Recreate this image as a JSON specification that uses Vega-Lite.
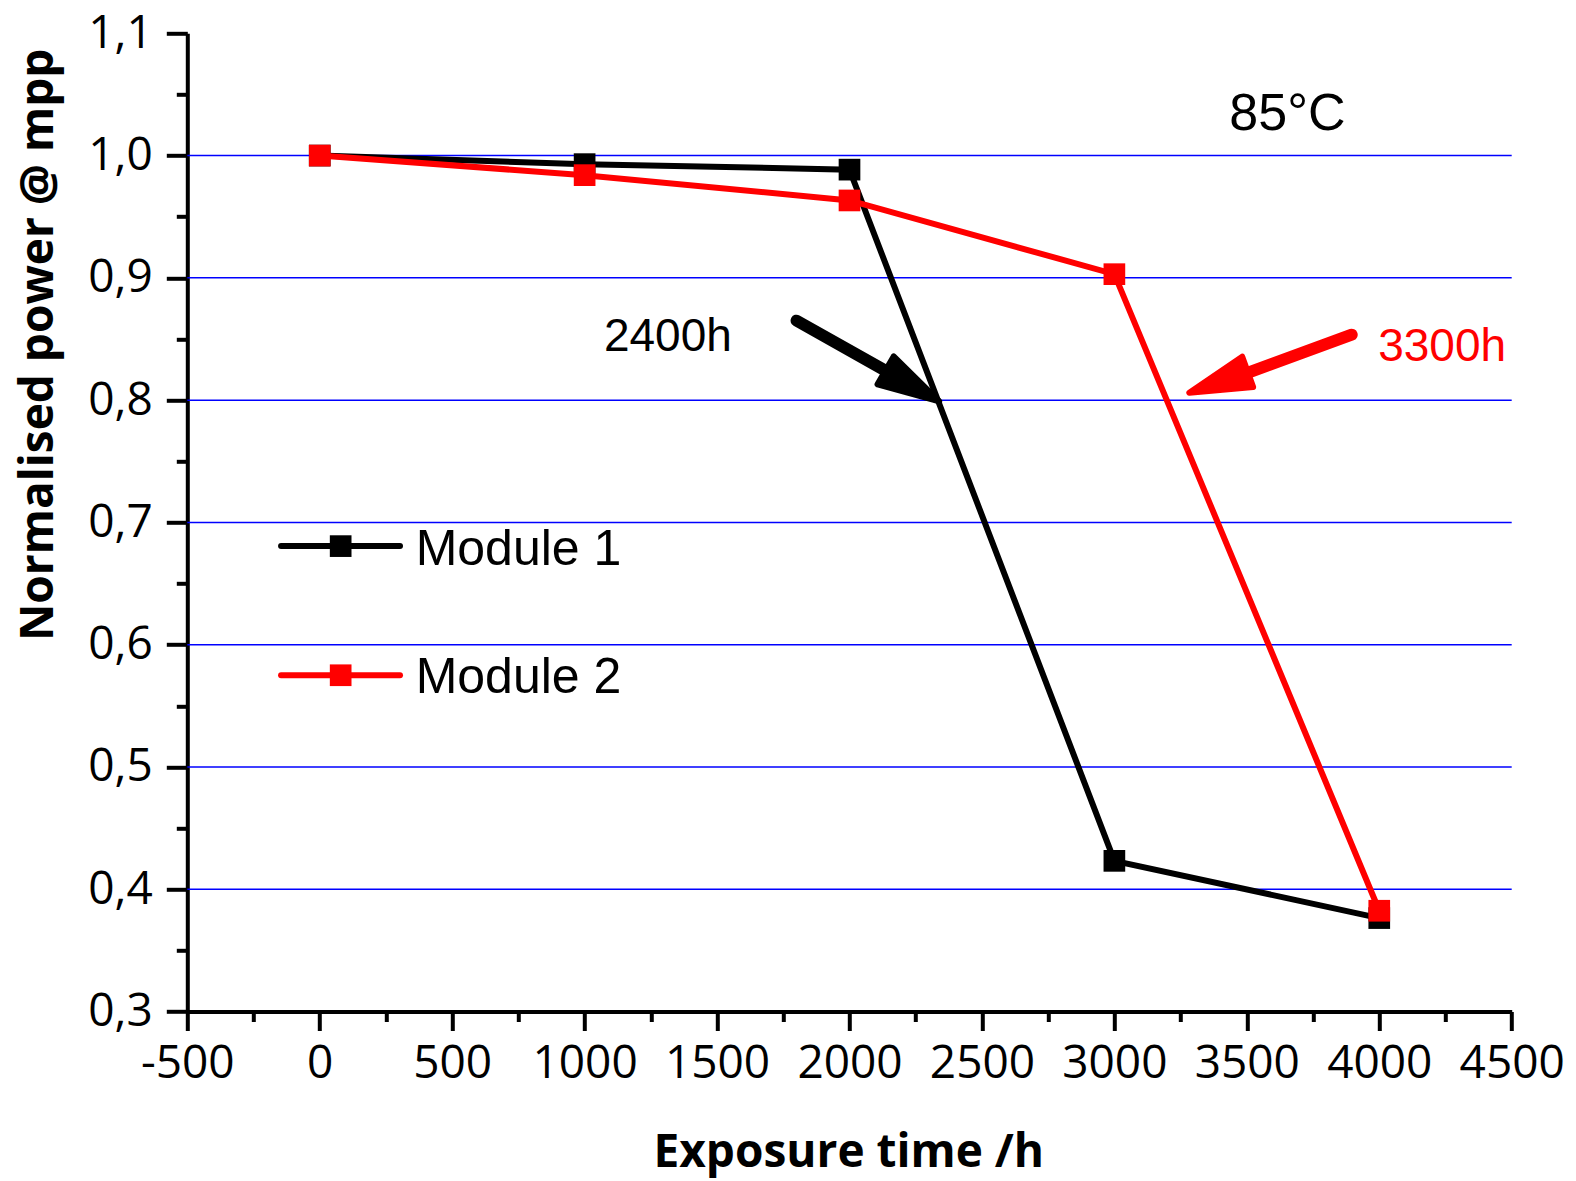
{
  "$schema": "https://vega.github.io/schema/vega-lite/v6.json",
  "autosize": "none",
  "width": 1324.4,
  "height": 978.2,
  "padding": {"left": 187.3, "top": 33.3, "right": 64.3, "bottom": 169.5},
  "background": "white",
  "config": {
    "view": {"stroke": null},
    "axis": {
      "grid": false,
      "domainColor": "black",
      "domainWidth": 4,
      "tickColor": "black",
      "tickWidth": 4,
      "labelColor": "black",
      "labelFont": "Open Sans",
      "labelFontSize": 46,
      "titleColor": "black",
      "titleFont": "Open Sans",
      "titleFontSize": 46,
      "titleFontWeight": "bold",
      "labelOverlap": false,
      "labelFlush": false,
      "labelBound": false
    }
  },
  "datasets": {
    "series": [
      {"x": 0, "y": 1.0, "series": "Module 1"},
      {"x": 1000, "y": 0.993, "series": "Module 1"},
      {"x": 2000, "y": 0.9885, "series": "Module 1"},
      {"x": 3000, "y": 0.4232, "series": "Module 1"},
      {"x": 4000, "y": 0.3764, "series": "Module 1"},
      {"x": 0, "y": 1.0, "series": "Module 2"},
      {"x": 1000, "y": 0.984, "series": "Module 2"},
      {"x": 2000, "y": 0.9633, "series": "Module 2"},
      {"x": 3000, "y": 0.903, "series": "Module 2"},
      {"x": 4000, "y": 0.3824, "series": "Module 2"}
    ],
    "grid": [
      {"y": 0.4}, {"y": 0.5}, {"y": 0.6}, {"y": 0.7}, {"y": 0.8}, {"y": 0.9}, {"y": 1.0}
    ],
    "arrows": [
      {"x": 1800, "y": 0.865, "x2": 2232, "y2": 0.8123, "tx": 2339, "ty": 0.799, "series": "Module 1"},
      {"x": 3896, "y": 0.8535, "x2": 3403, "y2": 0.8144, "tx": 3283, "ty": 0.806, "series": "Module 2"}
    ],
    "notes": [
      {"x": 1073, "y": 0.8399, "text": "2400h", "series": "Module 1"},
      {"x": 3996, "y": 0.8317, "text": "3300h", "series": "Module 2"}
    ],
    "temp": [
      {"x": 3434, "y": 1.021, "text": "85°C", "series": "Module 1"}
    ],
    "legend": [
      {"x": -146, "x2": 303, "xs": 79, "xt": 362, "y": 0.6806, "yt": 0.6648, "series": "Module 1"},
      {"x": -146, "x2": 303, "xs": 79, "xt": 362, "y": 0.575, "yt": 0.5602, "series": "Module 2"}
    ]
  },
  "layer": [
    {
      "data": {"name": "grid"},
      "mark": {"type": "rule", "color": "#0000ff", "strokeWidth": 1.5},
      "encoding": {
        "y": {
          "field": "y", "type": "quantitative",
          "scale": {"domain": [0.3, 1.1], "nice": false, "zero": false},
          "axis": {
            "title": "Normalised power @ mpp",
            "values": [0.3, 0.35, 0.4, 0.45, 0.5, 0.55, 0.6, 0.65, 0.7, 0.75, 0.8, 0.85, 0.9, 0.95, 1.0, 1.05, 1.1],
            "labelExpr": "abs(datum.value*10 - round(datum.value*10)) < 0.001 ? replace(format(datum.value, '.1f'), '.', ',') : ''",
            "tickSize": {"condition": {"test": "abs(datum.value*10 - round(datum.value*10)) < 0.001", "value": 21}, "value": 11},
            "labelPadding": 14,
            "titleAngle": -90,
            "titleX": -135,
            "titleY": 311,
            "titleAlign": "center",
            "titleBaseline": "alphabetic"
          }
        }
      }
    },
    {
      "data": {"name": "series"},
      "transform": [{"filter": "datum.series === 'Module 1'"}],
      "mark": {"type": "line", "strokeWidth": 6},
      "encoding": {
        "x": {
          "field": "x", "type": "quantitative",
          "scale": {"domain": [-500, 4500], "nice": false, "zero": false},
          "axis": {
            "title": "Exposure time /h",
            "values": [-500, -250, 0, 250, 500, 750, 1000, 1250, 1500, 1750, 2000, 2250, 2500, 2750, 3000, 3250, 3500, 3750, 4000, 4250, 4500],
            "labelExpr": "datum.value % 500 === 0 ? '' + datum.value : ''",
            "tickSize": {"condition": {"test": "datum.value % 500 === 0", "value": 19}, "value": 10},
            "labelPadding": 11,
            "titleX": 661,
            "titleY": 155,
            "titleAlign": "center",
            "titleBaseline": "alphabetic"
          }
        },
        "y": {"field": "y", "type": "quantitative", "scale": {"domain": [0.3, 1.1], "nice": false, "zero": false}},
        "color": {"field": "series", "type": "nominal", "scale": {"domain": ["Module 1", "Module 2"], "range": ["#000000", "#ff0000"]}, "legend": null}
      }
    },
    {
      "data": {"name": "series"},
      "transform": [{"filter": "datum.series === 'Module 1'"}],
      "mark": {"type": "point", "shape": "square", "filled": true, "opacity": 1, "size": 470},
      "encoding": {
        "x": {"field": "x", "type": "quantitative", "scale": {"domain": [-500, 4500], "nice": false, "zero": false}},
        "y": {"field": "y", "type": "quantitative", "scale": {"domain": [0.3, 1.1], "nice": false, "zero": false}},
        "color": {"field": "series", "type": "nominal", "legend": null}
      }
    },
    {
      "data": {"name": "series"},
      "transform": [{"filter": "datum.series === 'Module 2'"}],
      "mark": {"type": "line", "strokeWidth": 6},
      "encoding": {
        "x": {"field": "x", "type": "quantitative", "scale": {"domain": [-500, 4500], "nice": false, "zero": false}},
        "y": {"field": "y", "type": "quantitative", "scale": {"domain": [0.3, 1.1], "nice": false, "zero": false}},
        "color": {"field": "series", "type": "nominal", "legend": null}
      }
    },
    {
      "data": {"name": "series"},
      "transform": [{"filter": "datum.series === 'Module 2'"}],
      "mark": {"type": "point", "shape": "square", "filled": true, "opacity": 1, "size": 470},
      "encoding": {
        "x": {"field": "x", "type": "quantitative", "scale": {"domain": [-500, 4500], "nice": false, "zero": false}},
        "y": {"field": "y", "type": "quantitative", "scale": {"domain": [0.3, 1.1], "nice": false, "zero": false}},
        "color": {"field": "series", "type": "nominal", "legend": null}
      }
    },
    {
      "data": {"name": "arrows"},
      "mark": {"type": "rule", "strokeWidth": 12, "strokeCap": "round"},
      "encoding": {
        "x": {"field": "x", "type": "quantitative", "scale": {"domain": [-500, 4500], "nice": false, "zero": false}},
        "y": {"field": "y", "type": "quantitative", "scale": {"domain": [0.3, 1.1], "nice": false, "zero": false}},
        "x2": {"field": "x2"},
        "y2": {"field": "y2"},
        "color": {"field": "series", "type": "nominal", "legend": null}
      }
    },
    {
      "data": {"name": "arrows"},
      "transform": [{"filter": "datum.series === 'Module 1'"}],
      "mark": {"type": "point", "shape": "M0,0L-2,-0.52L-2,0.52Z", "size": 3844, "angle": 30, "filled": true, "opacity": 1, "fill": "#000000", "stroke": "#000000", "strokeWidth": 6, "strokeJoin": "round"},
      "encoding": {
        "x": {"field": "tx", "type": "quantitative", "scale": {"domain": [-500, 4500], "nice": false, "zero": false}},
        "y": {"field": "ty", "type": "quantitative", "scale": {"domain": [0.3, 1.1], "nice": false, "zero": false}}
      }
    },
    {
      "data": {"name": "arrows"},
      "transform": [{"filter": "datum.series === 'Module 2'"}],
      "mark": {"type": "point", "shape": "M0,0L-2,-0.52L-2,0.52Z", "size": 3844, "angle": 160.25, "filled": true, "opacity": 1, "fill": "#ff0000", "stroke": "#ff0000", "strokeWidth": 6, "strokeJoin": "round"},
      "encoding": {
        "x": {"field": "tx", "type": "quantitative", "scale": {"domain": [-500, 4500], "nice": false, "zero": false}},
        "y": {"field": "ty", "type": "quantitative", "scale": {"domain": [0.3, 1.1], "nice": false, "zero": false}}
      }
    },
    {
      "data": {"name": "notes"},
      "mark": {"type": "text", "font": "Liberation Sans", "fontSize": 46, "align": "left", "baseline": "alphabetic"},
      "encoding": {
        "x": {"field": "x", "type": "quantitative", "scale": {"domain": [-500, 4500], "nice": false, "zero": false}},
        "y": {"field": "y", "type": "quantitative", "scale": {"domain": [0.3, 1.1], "nice": false, "zero": false}},
        "text": {"field": "text"},
        "color": {"field": "series", "type": "nominal", "legend": null}
      }
    },
    {
      "data": {"name": "temp"},
      "mark": {"type": "text", "font": "Liberation Sans", "fontSize": 52, "align": "left", "baseline": "alphabetic"},
      "encoding": {
        "x": {"field": "x", "type": "quantitative", "scale": {"domain": [-500, 4500], "nice": false, "zero": false}},
        "y": {"field": "y", "type": "quantitative", "scale": {"domain": [0.3, 1.1], "nice": false, "zero": false}},
        "text": {"field": "text"},
        "color": {"field": "series", "type": "nominal", "legend": null}
      }
    },
    {
      "data": {"name": "legend"},
      "mark": {"type": "rule", "strokeWidth": 6, "strokeCap": "round"},
      "encoding": {
        "x": {"field": "x", "type": "quantitative", "scale": {"domain": [-500, 4500], "nice": false, "zero": false}},
        "x2": {"field": "x2"},
        "y": {"field": "y", "type": "quantitative", "scale": {"domain": [0.3, 1.1], "nice": false, "zero": false}},
        "color": {"field": "series", "type": "nominal", "legend": null}
      }
    },
    {
      "data": {"name": "legend"},
      "mark": {"type": "point", "shape": "square", "filled": true, "opacity": 1, "size": 470},
      "encoding": {
        "x": {"field": "xs", "type": "quantitative", "scale": {"domain": [-500, 4500], "nice": false, "zero": false}},
        "y": {"field": "y", "type": "quantitative", "scale": {"domain": [0.3, 1.1], "nice": false, "zero": false}},
        "color": {"field": "series", "type": "nominal", "legend": null}
      }
    },
    {
      "data": {"name": "legend"},
      "mark": {"type": "text", "font": "Liberation Sans", "fontSize": 50, "align": "left", "baseline": "alphabetic", "color": "black"},
      "encoding": {
        "x": {"field": "xt", "type": "quantitative", "scale": {"domain": [-500, 4500], "nice": false, "zero": false}},
        "y": {"field": "yt", "type": "quantitative", "scale": {"domain": [0.3, 1.1], "nice": false, "zero": false}},
        "text": {"field": "series"}
      }
    }
  ]
}
